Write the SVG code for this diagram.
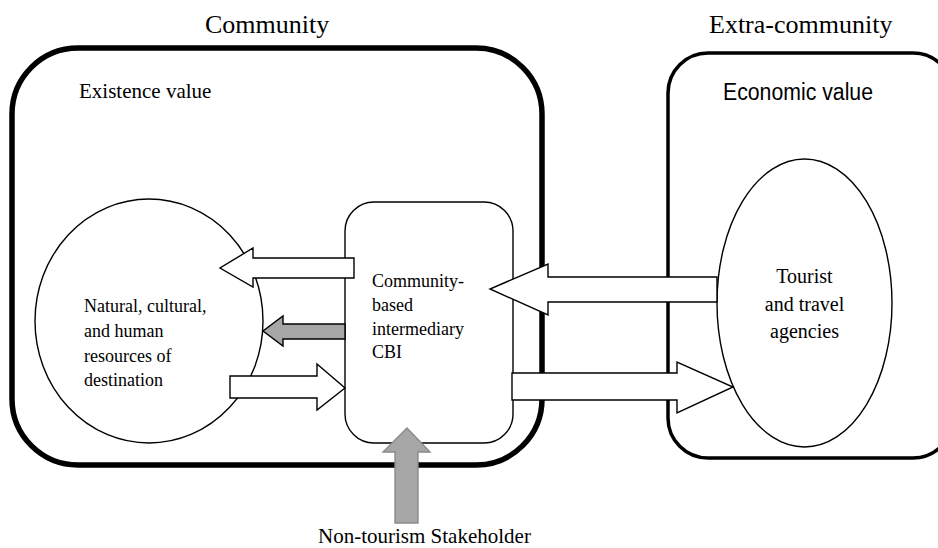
<svg xmlns="http://www.w3.org/2000/svg" width="938" height="548" viewBox="0 0 938 548">
<style>
.serif{font-family:"Liberation Serif","Times New Roman",serif;fill:#000}
.sans{font-family:"Liberation Sans",Arial,sans-serif;fill:#000}
.title{font-size:26px}
.node{fill:#fff;stroke:#000;stroke-width:1.4}
.wa{fill:#fff;stroke:#000;stroke-width:1.4;stroke-linejoin:miter}
.ga{fill:#a6a6a6;stroke:#000;stroke-width:1.4}
.gu{fill:#a6a6a6;stroke:#8a8a8a;stroke-width:1.4}
</style>
<rect width="938" height="548" fill="#fff"/>
<g id="community">
<rect x="12" y="48" width="530" height="417" rx="66" ry="66" fill="none" stroke="#000" stroke-width="5.5"/>
<text class="serif title" x="205" y="33">Community</text>
<text class="serif" x="79" y="98" font-size="21">Existence value</text>
</g>
<g id="extra-community">
<rect x="668" y="53" width="285" height="405" rx="40" ry="40" fill="none" stroke="#000" stroke-width="3.5"/>
<text class="serif title" x="709" y="33">Extra-community</text>
<text class="sans" x="723" y="100" font-size="23" textLength="150" lengthAdjust="spacingAndGlyphs">Economic value</text>
</g>
<g id="resources">
<ellipse class="node" cx="149" cy="321" rx="114" ry="122"/>
<text class="serif" font-size="18"><tspan x="84" y="312">Natural, cultural,</tspan><tspan x="84" y="337">and human</tspan><tspan x="84" y="362">resources of</tspan><tspan x="84" y="386">destination</tspan></text>
</g>
<g id="cbi">
<rect class="node" x="345" y="202" width="168" height="241" rx="29" ry="29"/>
<text class="serif" font-size="18"><tspan x="372" y="287">Community-</tspan><tspan x="372" y="311">based</tspan><tspan x="372" y="335">intermediary</tspan><tspan x="372" y="358">CBI</tspan></text>
</g>
<g id="agencies">
<ellipse class="node" cx="804.5" cy="303" rx="87.5" ry="144"/>
<text class="serif" font-size="20" text-anchor="middle"><tspan x="804.5" y="283">Tourist</tspan><tspan x="804.5" y="311">and travel</tspan><tspan x="804.5" y="338">agencies</tspan></text>
</g>
<g id="stakeholder">
<text class="serif" x="318" y="543" font-size="21">Non-tourism Stakeholder</text>
</g>
<g id="connectors">
<polygon class="wa" points="354,258 253,258 253,248 220,268 253,287 253,278 354,278"/>
<polygon class="ga" points="345,324 283,324 283,316 263,331 283,346 283,339 345,339"/>
<polygon class="wa" points="230,376 317,376 317,364 345,388 317,410 317,398 230,398"/>
<polygon class="wa" points="717,277 548,277 548,264 490,289 548,315 548,302 717,302"/>
<polygon class="wa" points="512,373 677,373 677,362 733,387 677,413 677,400 512,400"/>
<polygon class="gu" points="395,523 395,452 383,452 407,428 430,452 418,452 418,523"/>
</g>
</svg>
